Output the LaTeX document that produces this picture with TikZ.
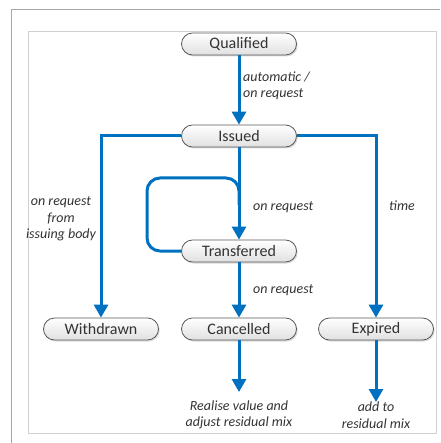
\documentclass[tikz,border=0pt]{standalone}
\usepackage{fontspec}
\setmainfont{Carlito}
\usetikzlibrary{arrows.meta,shadows}
\definecolor{flowblue}{RGB}{0,112,192}
\begin{document}
\begin{tikzpicture}[x=1pt,y=-1pt]
	\tikzstyle{State} = [draw=black!65, line width=0.8pt, rounded corners=11pt, minimum width=115pt, minimum height=22pt, inner sep=0pt, top color=white, bottom color=black!12, drop shadow={opacity=0.3, shadow xshift=1.2pt, shadow yshift=-1.5pt}, text=black!80, font=\fontsize{16}{19}\selectfont]
	\tikzstyle{Flow} = [draw=flowblue, line width=3pt, -{Triangle[width=14pt,length=13pt]}]
	\tikzstyle{Note} = [inner sep=0pt, text=black!80, align=center, font=\itshape\fontsize{14}{16.5}\selectfont]
	\useasboundingbox (0,0) rectangle (440,443);
	\draw [black!35, line width=1pt] (11,443) |- (440,10);
	\draw [black!18, line width=0.7pt] (28,31) rectangle (436,433);
	% states
	\node (qualified) at (239,44) [State] {Qualified};
	\node (issued) at (239,136) [State] {Issued};
	\node (transferred) at (239,251) [State] {Transferred};
	\node (withdrawn) at (101,329) [State] {Withdrawn};
	\node (cancelled) at (239,329) [State] {Cancelled};
	\node (expired) at (376,329) [State] {Expired};
	% outcomes
	\node (realise) at (239,415) [Note] {Realise value and\\adjust residual mix};
	\node (addto) at (376,415) [Note] {add to\\residual mix};
	\coordinate (realisetip) at (239,392);
	\coordinate (addtotip) at (376,402);
	\coordinate (loopjoin) at (239,205);
	% labels
	\node (autolbl) at (243,86) [Note, anchor=west, align=left] {automatic /\\on request};
	\node (withdrawlbl) at (61,219) [Note] {on request\\from\\issuing body};
	\node (transferlbl) at (253,207) [Note, anchor=west] {on request};
	\node (timelbl) at (402,206) [Note] {time};
	\node (cancellbl) at (253,290) [Note, anchor=west] {on request};
	% transitions
	\draw [Flow, -, rounded corners=13pt] (transferred.west) -| (147,178) -| (loopjoin);
	\draw [Flow] (qualified) -- (issued);
	\draw [Flow] (issued) -- (transferred);
	\draw [Flow] (issued.west) -| (withdrawn);
	\draw [Flow] (issued.east) -| (expired);
	\draw [Flow] (transferred) -- (cancelled);
	\draw [Flow] (cancelled) -- (realisetip);
	\draw [Flow] (expired) -- (addtotip);
\end{tikzpicture}
\end{document}
